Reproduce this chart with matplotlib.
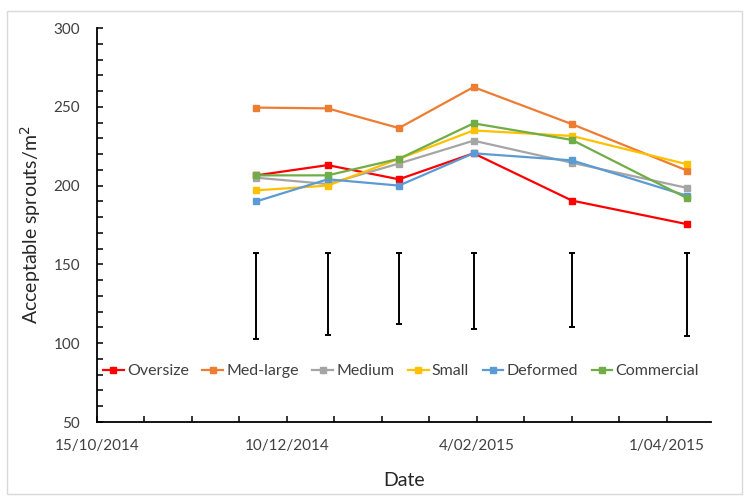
import datetime as dt
import matplotlib
matplotlib.use("Agg")
import matplotlib.pyplot as plt
from matplotlib.patches import Rectangle

plt.rcParams['font.family'] = ['Lato', 'DejaVu Sans']

# sampling dates
dates = [dt.date(2014, 12, 1), dt.date(2014, 12, 22), dt.date(2015, 1, 12),
         dt.date(2015, 2, 3), dt.date(2015, 3, 4), dt.date(2015, 4, 7)]

oversize = [206.5, 213, 204, 220.5, 190.5, 175.5]
med_large = [249.5, 249, 236.5, 262.5, 239, 209.5]
medium = [205, 201, 214, 228.5, 214.5, 198.5]
small = [197, 200, 217, 235, 231.5, 213.5]
deformed = [190, 204, 200, 220.5, 216, 193.5]
commercial = [206.5, 206.5, 217, 239.5, 229, 192]

# LSD bars (bottom and top of each bar)
lsd_low = [102.5, 105, 112.5, 109, 110.5, 104.5]
lsd_high = [157.5, 157.5, 157.5, 157.5, 157.5, 157.5]

series = [("Oversize", oversize, "#FF0000"),
          ("Med-large", med_large, "#ED7D31"),
          ("Medium", medium, "#A5A5A5"),
          ("Small", small, "#FFC000"),
          ("Deformed", deformed, "#5B9BD5"),
          ("Commercial", commercial, "#70AD47")]

fig = plt.figure(figsize=(7.49, 5.01), dpi=100)
fig.patches.append(Rectangle((7 / 749, 7 / 501), 735 / 749, 483 / 501,
                             transform=fig.transFigure, fill=False,
                             edgecolor="#D9D9D9", lw=1))
ax = fig.add_axes([97 / 749, 1 - 422 / 501, 614 / 749, 394 / 501])

for name, vals, col in series:
    ax.plot(dates, vals, color=col, lw=1.6, marker="s", markersize=4, label=name)

mid = [(a + b) / 2 for a, b in zip(lsd_low, lsd_high)]
half = [(b - a) / 2 for a, b in zip(lsd_low, lsd_high)]
ax.errorbar(dates, mid, yerr=half, fmt="none", ecolor="black",
            elinewidth=1.4, capsize=2.5, capthick=1.4)

ax.set_xlim(dt.date(2014, 10, 15), dt.date(2015, 4, 14))
ax.set_ylim(50, 300)
ax.set_yticks(range(50, 301, 50))
ax.set_yticks(range(50, 301, 10), minor=True)
major = [dt.date(2014, 10, 15), dt.date(2014, 12, 10), dt.date(2015, 2, 4), dt.date(2015, 4, 1)]
ax.set_xticks(major)
minor = [dt.date(2014, 10, 15) + dt.timedelta(days=14 * i) for i in range(13)]
ax.set_xticks(minor, minor=True)
ax.set_xticklabels([f"{d.day}/{d.month:02d}/{d.year}" for d in major])

for s in ["top", "right"]:
    ax.spines[s].set_visible(False)
for s in ["left", "bottom"]:
    ax.spines[s].set_linewidth(1.3)
ax.tick_params(which="both", direction="in", length=4, width=1.1, color="black")
ax.tick_params(axis="y", which="major", pad=12, labelsize=11, labelcolor="#404040")
ax.tick_params(axis="x", which="major", pad=12, labelsize=11, labelcolor="#404040")

ax.set_xlabel("Date", fontsize=14, color="#262626", labelpad=14)
ax.set_ylabel("Acceptable sprouts/m$^2$", fontsize=14, color="#262626", labelpad=8)

ax.legend(loc="center", bbox_to_anchor=(0.495, 0.129), ncol=6, frameon=False,
          fontsize=11.5, handlelength=1.3, handletextpad=0.2, columnspacing=0.85,
          labelcolor="#404040")

fig.savefig("out.png", dpi=100)
